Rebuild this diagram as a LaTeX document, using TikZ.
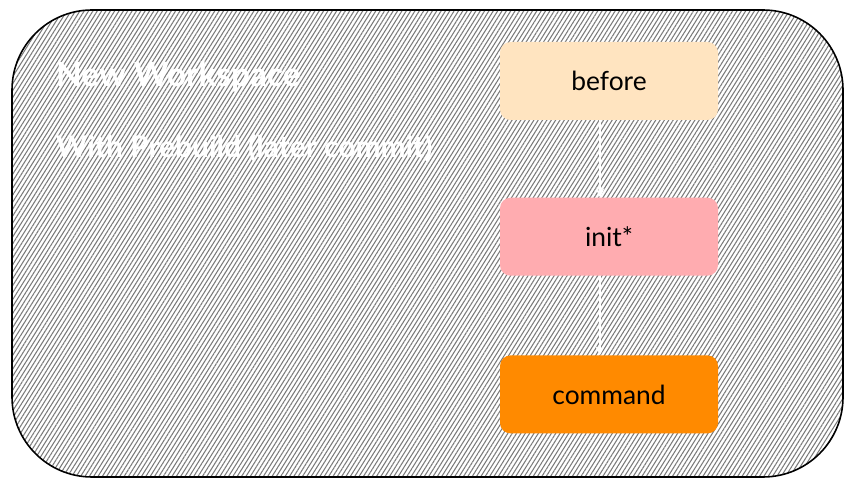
\documentclass[tikz,border=0pt]{standalone}
\usepackage{fontspec}
\setmainfont{Lato}
\usepackage{tikz}
\usetikzlibrary{arrows.meta, positioning, patterns.meta}
\definecolor{peachbox}{HTML}{FFE4C0}
\definecolor{pinkbox}{HTML}{FFACB0}
\definecolor{orangebox}{HTML}{FF8A00}
\definecolor{hatchgray}{HTML}{7A7A7A}

\tikzset{
  stage/.style={minimum width=4.36cm, minimum height=1.56cm, rounded corners=6pt,
    text=black, font=\fontsize{15}{15}\selectfont},
  flow/.style={white, line width=0.9pt, -{Stealth[length=5pt, width=5pt]}}
}

\begin{document}
\begin{tikzpicture}
  \useasboundingbox (0,0) rectangle (17.1,-9.74);

  % Workspace panel with hatched fill
  \fill[white] (0.24,-0.2) rectangle (16.86,-9.54);
  \draw[black, line width=0.9pt, rounded corners=1.6cm,
    pattern={Lines[angle=58, distance=2.1pt, line width=0.6pt]}, pattern color=hatchgray]
    (0.24,-0.2) rectangle (16.86,-9.54);

  % Panel titles
  \node[white, anchor=west, font=\fontsize{19}{19}\selectfont\bfseries] (title) at (1.0,-1.54) {New Workspace};
  \node[white, anchor=west, font=\fontsize{17}{17}\selectfont\bfseries] (subtitle) at (1.0,-2.96) {With Prebuild (later commit)};

  % Stages - stacked vertically
  \node[stage, fill=peachbox] (before) at (12.18,-1.62) {before};
  \node[stage, fill=pinkbox, below=1.54cm of before] (init) {init*};
  \node[stage, fill=orangebox, below=1.58cm of init] (command) {command};

  % Connectors
  \draw[flow] ([xshift=-0.18cm]before.south) -- ([xshift=-0.18cm]init.north);
  \draw[flow] ([xshift=-0.18cm]init.south) -- ([xshift=-0.18cm]command.north);
\end{tikzpicture}
\end{document}
